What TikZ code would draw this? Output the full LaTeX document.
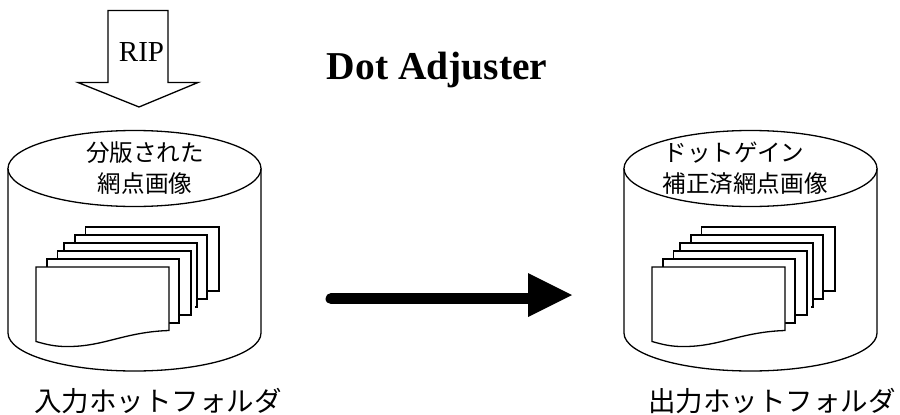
\documentclass[tikz,border=0pt]{standalone}
\usepackage{fontspec}
\setmainfont{Liberation Serif}
\newfontfamily\cjk{Noto Sans CJK JP}
\usetikzlibrary{positioning,arrows.meta}

\tikzset{
    page/.style={draw, fill=white, line width=1.3pt, line join=miter},
    drum/.style={draw, fill=white, line width=1.3pt},
    jalabel/.style={font=\cjk\fontsize{27.5}{27.5}\selectfont, inner sep=0pt},
    drumlabel/.style={font=\cjk\fontsize{23.6}{23.6}\selectfont, inner sep=0pt}
}

% one hot folder: drum plus the stack of sheets
\newcommand{\hotfolder}[1]{
    \begin{scope}[xshift=#1]
        \draw[drum] (8,168) -- (8,333) arc[start angle=180, end angle=0, x radius=126.5, y radius=38]
            -- (261,168);
        \draw[drum] (134.5,168.5) ellipse[x radius=126.5, y radius=38];
        \foreach \x/\y/\w in {85.5/227/133.5, 75/235/132} {
            \draw[page] (\x,\y) rectangle ++(\w,64);
        }
        \fill[white] (64,243) rectangle (197,307);
        \draw[page, fill=none] (195,307) -- (197,307) -- (197,243) -- (64,243) -- (64,251);
        \foreach \x/\y/\w in {57.5/251/133.5, 47/259/132} {
            \draw[page] (\x,\y) rectangle ++(\w,64);
        }
        \draw[page] (36,267) -- (169,267) -- (169,330.5)
            .. controls (125,332) and (105,346) .. (70,346.5)
            .. controls (55,347) and (45,344) .. (36,341.5) -- cycle;
    \end{scope}
}

\begin{document}
\begin{tikzpicture}[x=1pt,y=-1pt]
    \useasboundingbox (0,0) rectangle (900,415);

    \draw[line width=1.3pt, line join=miter] (108,10.5) -- (168,10.5) -- (168,82.5) -- (198,82.5)
        -- (139,107) -- (78,82.5) -- (108,82.5) -- cycle;
    \node[font=\fontsize{29}{29}\selectfont, inner sep=0pt] (rip) at (141.5,52) {RIP};

    \node[font=\bfseries\fontsize{39.5}{39.5}\selectfont, inner sep=0pt, anchor=base] (title) at (437,79) {Dot Adjuster};

    \hotfolder{0pt}
    \hotfolder{616pt}

    \node[drumlabel] (inname) at (145,153) {分版された};
    \node[drumlabel] (inimg) at (145,184) {網点画像};
    \node[drumlabel] (outname) at (734,153) {ドットゲイン};
    \node[drumlabel] (outimg) at (745,184) {補正済網点画像};

    \node[jalabel] (infolder) at (158,401) {入力ホットフォルダ};
    \node[jalabel] (outfolder) at (772,401) {出力ホットフォルダ};

    \coordinate (from) at (331,298.7);
    \coordinate (to) at (530,298.7);
    \draw[line width=11pt, line cap=round] (from) -- (to);
    \fill (528,273) -- (572,295) -- (528,317) -- cycle;
\end{tikzpicture}
\end{document}
